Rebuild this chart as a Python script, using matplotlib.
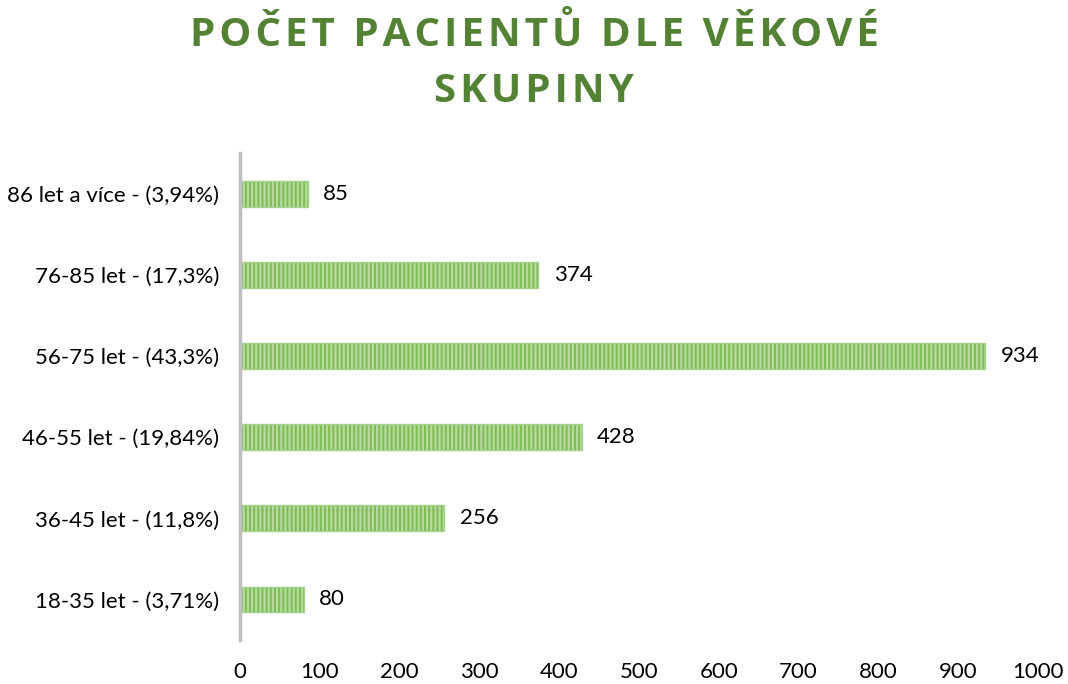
import matplotlib
matplotlib.use("Agg")
import matplotlib.pyplot as plt

categories = [
    "18-35 let - (3,71%)",
    "36-45 let - (11,8%)",
    "46-55 let - (19,84%)",
    "56-75 let - (43,3%)",
    "76-85 let - (17,3%)",
    "86 let a více - (3,94%)",
]
values = [80, 256, 428, 934, 374, 85]
xticks = [0, 100, 200, 300, 400, 500, 600, 700, 800, 900, 1000]
title = "POČET PACIENTŮ DLE VĚKOVÉ\nSKUPINY"

plt.rcParams["font.family"] = ["Lato", "DejaVu Sans"]
plt.rcParams["hatch.linewidth"] = 1.6

fig = plt.figure(figsize=(10.68, 6.84), dpi=100)
ax = fig.add_axes([0.2247, 0.0643, 0.7472, 0.7113])

ypos = range(len(categories))
ax.barh(ypos, values, height=0.32, color="#7DBB55",
        edgecolor="#B5DB9A", hatch="||||", linewidth=0)
# thin outline on top of the hatch
ax.barh(ypos, values, height=0.32, color="none", edgecolor="#A8D08D", linewidth=1)

for y, v in zip(ypos, values):
    ax.annotate(str(v), (v, y), xytext=(11, 0), textcoords="offset points",
                va="center", ha="left", fontsize=16, color="#000000")

ax.set_xlim(0, 1000)
ax.set_ylim(-0.5, len(categories) - 0.5)
ax.set_xticks(xticks)
ax.set_xticklabels([str(t) for t in xticks])
ax.set_yticks(list(ypos))
ax.set_yticklabels(categories)
ax.tick_params(axis="both", length=0, labelsize=16, colors="#000000")
ax.tick_params(axis="x", pad=16)
ax.tick_params(axis="y", pad=15)

for s in ["top", "right", "bottom"]:
    ax.spines[s].set_visible(False)
ax.spines["left"].set_color("#BFBFBF")
ax.spines["left"].set_linewidth(2.5)

# letter-spaced title
spaced = "\n".join("\u200a".join(line) for line in title.split("\n"))
fig.text(0.5, 0.978, spaced, ha="center", va="top", fontsize=29,
         fontweight="bold", color="#548235", linespacing=1.55,
         family=["Open Sans", "DejaVu Sans"])

fig.savefig("out.png", dpi=100)
